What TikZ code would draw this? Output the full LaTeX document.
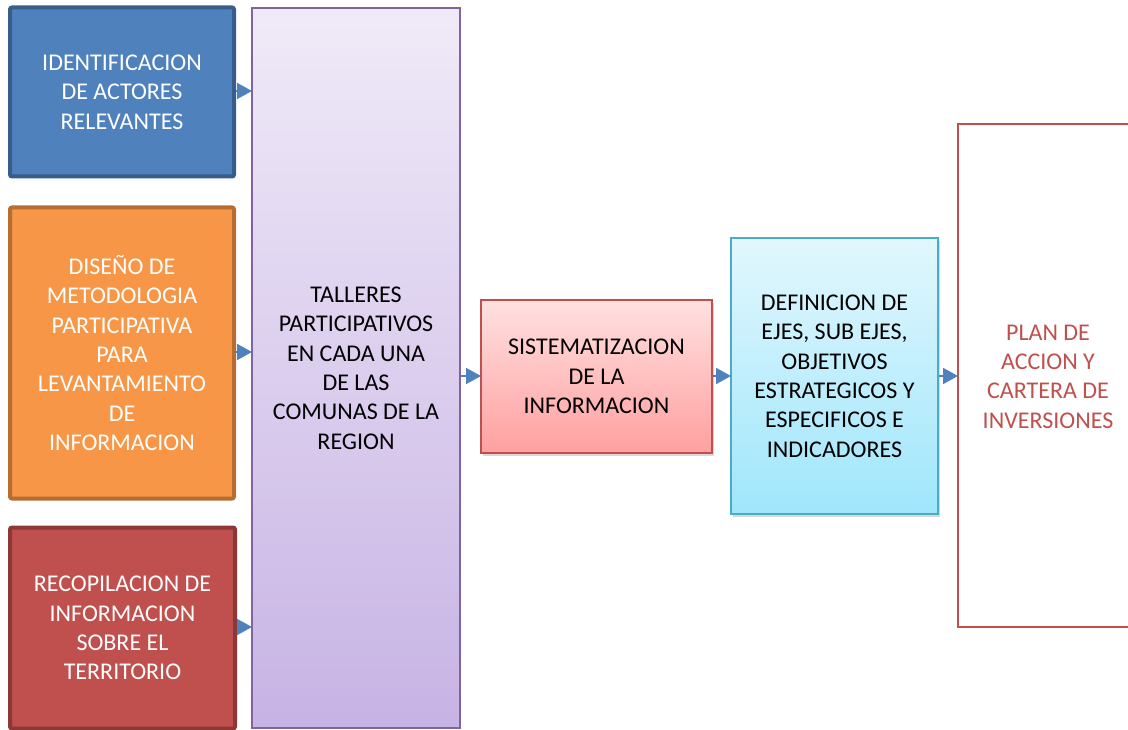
\documentclass[tikz,border=0pt]{standalone}
\usepackage{fontspec}
\setmainfont{Carlito}
\usetikzlibrary{arrows.meta,shadows}
\definecolor{bluefill}{HTML}{4F81BD}
\definecolor{blueline}{HTML}{385D8A}
\definecolor{orangefill}{HTML}{F79646}
\definecolor{orangeline}{HTML}{B66D31}
\definecolor{redfill}{HTML}{C0504D}
\definecolor{redline}{HTML}{8C3836}
\definecolor{purpline}{HTML}{8064A2}
\definecolor{purptop}{HTML}{F0EAF8}
\definecolor{purpbot}{HTML}{C7B3E4}
\definecolor{pinktop}{HTML}{FFE0E0}
\definecolor{pinkbot}{HTML}{FFA0A0}
\definecolor{cyantop}{HTML}{E2F7FD}
\definecolor{cyanbot}{HTML}{9FE6FC}
\definecolor{cyanline}{HTML}{4BACC6}
\definecolor{arrowblue}{HTML}{4F81BD}
\tikzset{
  txt/.style={font=\fontsize{24}{29.4}\selectfont, align=center},
  inbox/.style={txt, text=white, line width=4pt, rounded corners=2pt, inner sep=0pt},
  flowarrow/.style={draw=arrowblue, line width=2pt, -{Triangle[length=15pt,width=16pt]}, shorten >=-1pt}
}
\begin{document}
\begin{tikzpicture}[x=1pt,y=-1pt]
\useasboundingbox (0,0) rectangle (1128,730);
\clip (0,0) rectangle (1128,730);
% left input boxes
\node[inbox, draw=blueline, fill=bluefill, minimum width=224, minimum height=169] (ident) at (122,92)
  {IDENTIFICACION\\DE ACTORES\\RELEVANTES};
\node[inbox, draw=orangeline, fill=orangefill, minimum width=224, minimum height=291] (disen) at (122,353)
  {DISEÑO DE\\METODOLOGIA\\PARTICIPATIVA\\PARA\\LEVANTAMIENTO\\DE\\INFORMACION};
\node[inbox, draw=redline, fill=redfill, minimum width=225, minimum height=201] (recop) at (122.5,628)
  {RECOPILACION DE\\INFORMACION\\SOBRE EL\\TERRITORIO};
% tall purple box
\node[txt, draw=purpline, line width=2pt, top color=purptop, bottom color=purpbot, minimum width=208, minimum height=719, inner sep=0pt] (talleres) at (356,368)
  {TALLERES\\PARTICIPATIVOS\\EN CADA UNA\\DE LAS\\COMUNAS DE LA\\REGION};
% sistematizacion
\node[txt, draw=redfill, line width=2pt, top color=pinktop, bottom color=pinkbot, minimum width=231, minimum height=152, inner sep=0pt,
  drop shadow={opacity=0.3, shadow xshift=2pt, shadow yshift=-3pt}] (sist) at (596.5,376.5)
  {SISTEMATIZACION\\DE LA\\INFORMACION};
% definicion
\node[txt, draw=cyanline, line width=2pt, top color=cyantop, bottom color=cyanbot, minimum width=207, minimum height=275, inner sep=0pt,
  drop shadow={opacity=0.3, shadow xshift=2pt, shadow yshift=-3pt}] (defin) at (834.5,376)
  {DEFINICION DE\\EJES, SUB EJES,\\OBJETIVOS\\ESTRATEGICOS Y\\ESPECIFICOS E\\INDICADORES};
% plan (right edge beyond the picture)
\node[draw=redfill, line width=2pt, fill=white, minimum width=190, minimum height=503, inner sep=0pt] (planbox) at (1053,375.5) {};
\node[txt, text=redfill] (plan) at (1048,376.5) {PLAN DE\\ACCION Y\\CARTERA DE\\INVERSIONES};
% arrows
\draw[flowarrow] (ident.east |- 0,91) -- (talleres.west |- 0,91);
\draw[flowarrow] (disen.east |- 0,352) -- (talleres.west |- 0,352);
\draw[flowarrow] (recop.east |- 0,627) -- (talleres.west |- 0,627);
\draw[flowarrow] (talleres.east |- 0,376) -- (sist.west |- 0,376);
\draw[flowarrow] (sist.east |- 0,376) -- (defin.west |- 0,376);
\draw[flowarrow] (defin.east |- 0,376) -- (planbox.west |- 0,376);
\end{tikzpicture}
\end{document}
